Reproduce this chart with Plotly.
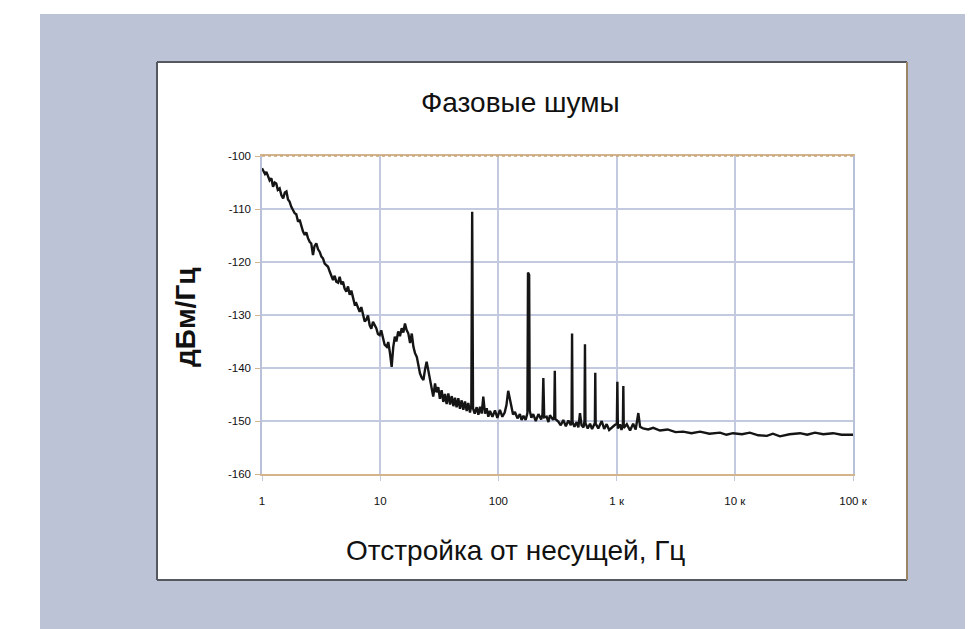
import plotly.graph_objects as go

# ---------------- data ----------------
freq_hz = [
    1.00, 1.02, 1.06, 1.09, 1.12, 1.16, 1.20, 1.24, 1.28, 1.32, 1.36, 1.41, 1.46, 1.51, 1.56,
    1.61, 1.66, 1.71, 1.77, 1.83, 1.89, 1.95, 2.02, 2.08, 2.15, 2.22, 2.30, 2.37, 2.45, 2.53,
    2.61, 2.65, 2.70, 2.78, 2.88, 2.98, 3.08, 3.18, 3.28, 3.39, 3.50, 3.62, 3.74, 3.86, 3.99,
    4.12, 4.25, 4.40, 4.54, 4.69, 4.84, 5.00, 5.17, 5.34, 5.52, 5.70, 5.89, 6.08, 6.28, 6.49,
    6.70, 6.92, 7.15, 7.39, 7.63, 7.88, 8.14, 8.41, 8.69, 8.98, 9.27, 9.57, 9.89, 10.2, 10.6,
    10.9, 11.35, 11.7, 12.1, 12.5, 12.9, 13.3, 13.7, 14.2, 14.7, 15.2, 15.7, 16.2, 16.7, 17.3,
    17.9, 18.5, 19.1, 19.7, 20.4, 21.0, 21.7, 22.4, 23.2, 23.9, 24.7, 25.5, 26.4, 27.3, 28.1,
    29.1, 30.0, 31.0, 32.0, 33.1, 34.2, 35.3, 36.5, 37.7, 39.0, 40.3, 41.6, 42.9, 44.3, 45.8,
    47.3, 48.9, 50.5, 52.2, 53.9, 55.6, 57.5, 59.0, 60.0, 61.0, 63.0, 65.5, 67.7, 69.9, 72.2,
    74.5, 77.0, 79.6, 82.2, 84.9, 89.0, 93.6, 98.0, 103, 108, 113, 117, 121, 125, 129,
    133, 138, 145, 152, 157, 163, 170, 176, 178, 182, 184, 190, 197, 207, 218,
    230, 236, 240, 244, 256, 265, 273, 290, 297, 300, 303, 321, 337, 354, 372,
    391, 410, 416, 420, 424, 440, 459, 475, 490, 505, 525, 535, 540, 545, 570,
    596, 620, 645, 655, 660, 665, 700, 748, 785, 824, 865, 909, 960, 1005, 1015,
    1025, 1070, 1100, 1130, 1140, 1150, 1220, 1300, 1380, 1450, 1527, 1580, 1672, 1850, 2040,
    2330, 2700, 3150, 3650, 4300, 5080, 6100, 7500, 8500, 9660, 11500, 13400, 15800, 18700, 21000,
    24100, 29000, 35600, 41000, 47700, 56000, 67800, 80000, 100000,
]
noise_dbm_hz = [
    -102.3, -102.6, -103.4, -103.0, -103.9, -104.6, -104.2, -105.8, -105.0, -105.2, -106.4, -106.1, -107.4, -108.0, -106.9,
    -106.7, -108.2, -108.6, -109.6, -110.2, -110.8, -111.0, -112.4, -112.0, -113.3, -114.2, -114.9, -114.4, -115.5, -116.2,
    -116.5, -117.5, -118.7, -117.0, -116.5, -117.6, -118.1, -119.0, -119.3, -120.3, -120.6, -120.9, -121.8, -122.8, -123.4,
    -122.6, -123.7, -123.9, -122.8, -124.2, -123.7, -125.0, -125.6, -124.6, -126.2, -125.4, -126.8, -128.0, -127.8, -128.6,
    -129.4, -128.5, -130.0, -131.2, -130.9, -130.1, -131.9, -132.6, -131.3, -132.0, -132.5, -133.6, -133.8, -132.9, -134.7,
    -135.6, -136.0, -135.1, -137.2, -139.8, -136.0, -134.1, -135.0, -133.1, -134.0, -132.5, -133.3, -131.6, -132.8, -133.5,
    -135.3, -133.5, -136.0, -137.2, -137.9, -139.5, -141.0, -141.8, -142.3, -140.4, -138.8, -140.4, -142.3, -143.8, -145.4,
    -142.9, -144.6, -143.6, -145.8, -144.2, -146.4, -144.9, -146.8, -144.8, -146.9, -145.3, -147.2, -145.6, -147.4, -145.7,
    -147.7, -146.1, -147.9, -146.3, -148.1, -146.6, -148.4, -147.0, -110.5, -147.6, -148.6, -147.4, -148.8, -147.3, -148.6,
    -145.4, -148.6, -147.6, -149.2, -148.1, -149.2, -148.0, -149.4, -147.9, -149.2, -148.4, -147.0, -144.3, -146.2, -147.3,
    -148.8, -148.3, -149.5, -148.7, -149.8, -149.0, -149.8, -148.5, -122.0, -122.4, -148.0, -149.4, -148.7, -150.0, -148.7,
    -149.7, -148.8, -141.9, -149.3, -149.2, -150.2, -148.9, -149.8, -149.2, -140.5, -149.6, -150.1, -150.8, -149.8, -151.0,
    -149.9, -150.8, -149.8, -133.5, -150.2, -151.1, -150.2, -151.2, -148.5, -150.8, -151.2, -150.0, -135.5, -150.4, -151.4,
    -150.5, -151.5, -150.6, -150.4, -140.9, -150.5, -151.4, -150.0, -151.5, -150.6, -151.7, -151.2, -150.8, -150.5, -142.6,
    -151.4, -150.6, -151.7, -150.7, -143.4, -151.3, -150.6, -151.8, -150.5, -151.6, -148.5, -151.1, -151.4, -151.6, -151.3,
    -151.8, -151.6, -152.1, -152.0, -152.3, -152.0, -152.4, -152.2, -152.6, -152.3, -152.5, -152.2, -152.7, -152.8, -152.4,
    -152.9, -152.5, -152.3, -152.6, -152.2, -152.5, -152.3, -152.6, -152.6,
]

x_tick_vals = [1, 10, 100, 1000, 10000, 100000]
x_tick_text = ["1", "10", "100", "1 к", "10 к", "100 к"]
y_tick_vals = [-160, -150, -140, -130, -120, -110, -100]
y_tick_text = ["-160", "-150", "-140", "-130", "-120", "-110", "-100"]

title_text = "Фазовые шумы"
x_title_text = "Отстройка от несущей, Гц"
y_title_text = "дБм/Гц"

# ---------------- figure ----------------
FONT = "Liberation Sans, Arial, sans-serif"
GRID = "#c3cadf"

fig = go.Figure()
fig.add_trace(go.Scatter(
    x=freq_hz, y=noise_dbm_hz, mode="lines",
    line=dict(color="#151515", width=2.4),
    hoverinfo="x+y", showlegend=False,
))

OFF = 8  # page body margin
W, H = 973, 629
# plot area in page pixels: x 262..853, y 156..474
L = 262 - OFF
T = 156 - OFF
R = W - (853 - OFF)
B = H - (474 - OFF)
pw, ph = W - L - R, H - T - B


def px(X):
    return (X - OFF - L) / pw


def py(Y):
    return (H - B - (Y - OFF)) / ph


shapes = [
    dict(type="rect", xref="paper", yref="paper", layer="below",
         x0=px(40), x1=px(968), y0=py(640), y1=py(14),
         fillcolor="#bcc3d7", line=dict(width=0)),
    dict(type="rect", xref="paper", yref="paper", layer="below",
         x0=px(157), x1=px(907), y0=py(580), y1=py(62),
         fillcolor="#ffffff", line=dict(width=0)),
    dict(type="line", xref="paper", yref="paper", x0=px(157), x1=px(907), y0=py(62), y1=py(62),
         line=dict(color="#55585f", width=2)),
    dict(type="line", xref="paper", yref="paper", x0=px(157), x1=px(157), y0=py(62), y1=py(580),
         line=dict(color="#55585f", width=2)),
    dict(type="line", xref="paper", yref="paper", x0=px(157), x1=px(907), y0=py(580), y1=py(580),
         line=dict(color="#55585f", width=2)),
    dict(type="line", xref="paper", yref="paper", x0=px(907), x1=px(907), y0=py(62), y1=py(580),
         line=dict(color="#9c8466", width=2)),
    dict(type="line", xref="paper", yref="paper", x0=0, x1=1, y0=1, y1=1,
         line=dict(color="#c9a57a", width=1.5, dash="dot")),
]

annotations = [
    dict(text=title_text, xref="paper", yref="paper", x=px(520), y=py(103),
         showarrow=False, font=dict(family=FONT, size=28, color="#111"),
         xanchor="center", yanchor="middle"),
    dict(text=x_title_text, xref="paper", yref="paper", x=px(515), y=py(550),
         showarrow=False, font=dict(family=FONT, size=28, color="#111"),
         xanchor="center", yanchor="middle"),
    dict(text="<b>" + y_title_text + "</b>", xref="paper", yref="paper", x=px(185), y=py(318),
         showarrow=False, textangle=-90, font=dict(family=FONT, size=28, color="#111"),
         xanchor="center", yanchor="middle"),
]

fig.update_layout(
    width=W, height=H,
    margin=dict(l=L, r=R, t=T, b=B, autoexpand=False),
    paper_bgcolor="#ffffff",
    plot_bgcolor="rgba(0,0,0,0)",
    shapes=shapes,
    annotations=annotations,
    font=dict(family=FONT, color="#222"),
)
fig.update_xaxes(
    type="log", range=[0, 5],
    tickvals=x_tick_vals, ticktext=x_tick_text,
    tickfont=dict(family=FONT, size=11.5, color="#111"),
    showgrid=True, gridcolor=GRID, gridwidth=1.5,
    showline=True, linecolor="#d3b48c", linewidth=1.5, mirror=True,
    ticks="outside", ticklen=5, tickcolor=GRID,
    ticklabelstandoff=10,
    zeroline=False,
)
fig.update_yaxes(
    range=[-160, -100], tickvals=y_tick_vals, ticktext=y_tick_text,
    tickfont=dict(family=FONT, size=11.5, color="#111"),
    showgrid=True, gridcolor=GRID, gridwidth=1.5,
    showline=True, linecolor="#b9c1d9", linewidth=1.5, mirror=True,
    ticks="outside", ticklen=5, tickcolor="#d3b48c",
    ticklabelstandoff=2,
    zeroline=False,
)

fig.write_html("out.html")
